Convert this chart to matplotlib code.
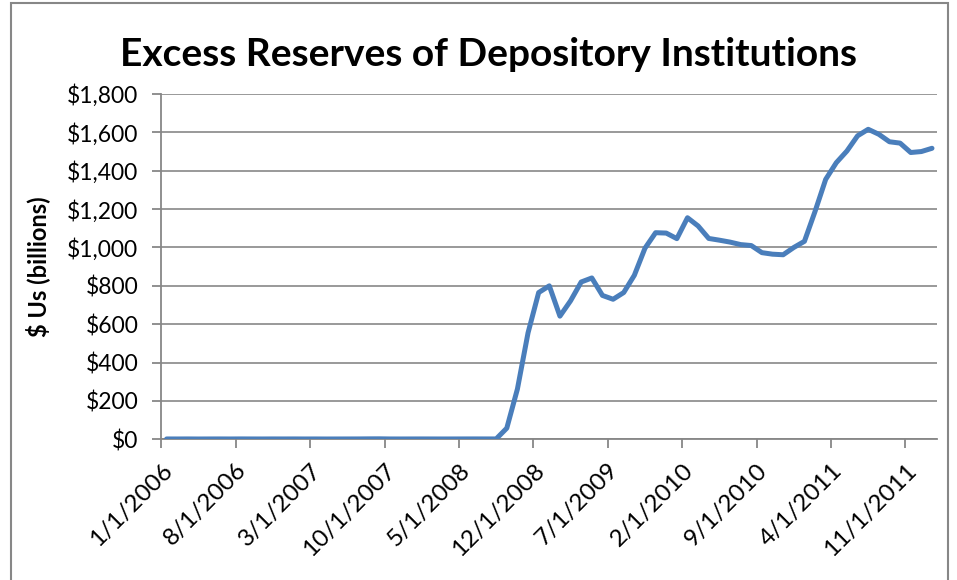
import matplotlib
matplotlib.use("Agg")
import matplotlib.pyplot as plt
from matplotlib.patches import Rectangle
from matplotlib.ticker import FuncFormatter

# Monthly excess reserves, Jan 2006 - Jan 2012, $ billions
months = [
    "1/1/2006", "2/1/2006", "3/1/2006", "4/1/2006", "5/1/2006", "6/1/2006",
    "7/1/2006", "8/1/2006", "9/1/2006", "10/1/2006", "11/1/2006", "12/1/2006",
    "1/1/2007", "2/1/2007", "3/1/2007", "4/1/2007", "5/1/2007", "6/1/2007",
    "7/1/2007", "8/1/2007", "9/1/2007", "10/1/2007", "11/1/2007", "12/1/2007",
    "1/1/2008", "2/1/2008", "3/1/2008", "4/1/2008", "5/1/2008", "6/1/2008",
    "7/1/2008", "8/1/2008", "9/1/2008", "10/1/2008", "11/1/2008", "12/1/2008",
    "1/1/2009", "2/1/2009", "3/1/2009", "4/1/2009", "5/1/2009", "6/1/2009",
    "7/1/2009", "8/1/2009", "9/1/2009", "10/1/2009", "11/1/2009", "12/1/2009",
    "1/1/2010", "2/1/2010", "3/1/2010", "4/1/2010", "5/1/2010", "6/1/2010",
    "7/1/2010", "8/1/2010", "9/1/2010", "10/1/2010", "11/1/2010", "12/1/2010",
    "1/1/2011", "2/1/2011", "3/1/2011", "4/1/2011", "5/1/2011", "6/1/2011",
    "7/1/2011", "8/1/2011", "9/1/2011", "10/1/2011", "11/1/2011", "12/1/2011",
    "1/1/2012",
]
reserves = [
    1.8, 1.7, 1.9, 1.6, 1.8, 1.9, 1.7, 2.0, 1.8, 1.7, 1.9, 1.8,
    1.9, 1.7, 1.8, 1.6, 1.7, 1.8, 1.9, 2.3, 2.5, 1.8, 1.7, 1.8,
    1.9, 1.8, 1.7, 1.8, 1.9, 2.0, 1.9, 1.9, 58, 262, 555, 765,
    800, 642, 722, 820, 841, 750, 730, 765, 855, 996, 1077, 1075,
    1046, 1155, 1112, 1047, 1038, 1028, 1015, 1010, 973, 965, 962, 1000,
    1032, 1188, 1355, 1442, 1503, 1582, 1616, 1590, 1551, 1544, 1495, 1500,
    1517,
]

TICK_STEP = 7
Y_TICKS = list(range(0, 1801, 200))
GREY = "#878787"

plt.rcParams["font.family"] = ["Lato", "DejaVu Sans"]

fig = plt.figure(figsize=(9.57, 5.80), dpi=100)
ax = fig.add_axes([161.3 / 957, 1 - 439.3 / 580, (937.3 - 161.3) / 957, (439.3 - 94) / 580])

# chart frame like the Excel chart area
fig.patches.append(Rectangle((11 / 957, -0.05), (948 - 11) / 957, 1.05 - 3 / 580,
                             transform=fig.transFigure, fill=False,
                             edgecolor=GREY, linewidth=1.5))

# points sit in the middle of each month slot
xs = [i + 0.5 for i in range(len(reserves))]
ax.plot(xs, reserves, color="#4A7EBB", linewidth=3.6, solid_joinstyle="round",
        solid_capstyle="round", zorder=3)

ax.set_xlim(0, len(reserves))
ax.set_ylim(0, 1800)
ax.set_yticks(Y_TICKS)
ax.yaxis.set_major_formatter(FuncFormatter(lambda v, p: f"${int(v):,}"))
tick_pos = list(range(0, len(reserves), TICK_STEP))
ax.set_xticks(tick_pos)
ax.set_xticklabels([months[i] for i in tick_pos], rotation=45, ha="right",
                   rotation_mode="anchor")

ax.grid(axis="y", color=GREY, linewidth=1.2)
ax.set_axisbelow(True)
for side in ["top", "right"]:
    ax.spines[side].set_visible(False)
for side in ["left", "bottom"]:
    ax.spines[side].set_color(GREY)
    ax.spines[side].set_linewidth(1.3)
ax.tick_params(axis="both", colors=GREY, width=1.3, length=6.5, labelsize=16.5,
               labelcolor="black")
ax.tick_params(axis="x", pad=8, labelsize=17.5)
ax.tick_params(axis="y", pad=10)

fig.text(38 / 957, 1 - 266.5 / 580, "$ Us (billions)", rotation=90,
         ha="center", va="center", fontsize=17, fontweight="bold")
fig.text(489 / 957, 1 - 66 / 580, "Excess Reserves of Depository Institutions",
         ha="center", va="baseline", fontsize=28, fontweight="bold")

fig.savefig("out.png", dpi=100)
